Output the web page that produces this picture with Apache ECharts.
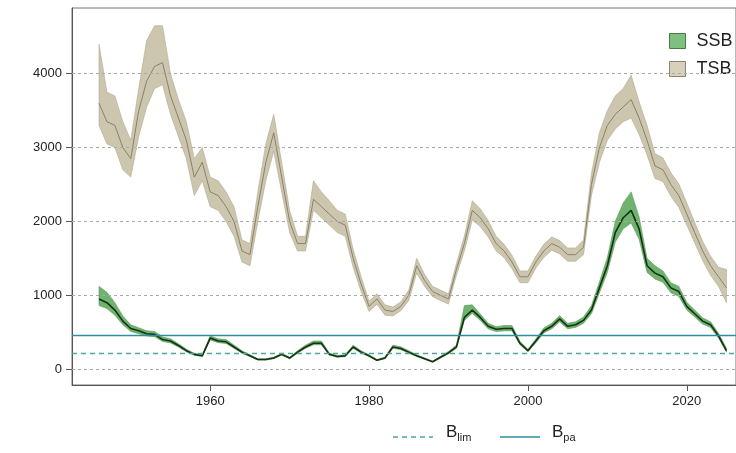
<!DOCTYPE html>
<html lang="en">
<head>
<meta charset="UTF-8" />
<title>Stock biomass</title>
<script src="https://cdn.jsdelivr.net/npm/echarts@6/dist/echarts.min.js"></script>
<style>html,body{margin:0;background:#fff;overflow:hidden}#main{width:736px;height:453px}</style>
</head>
<body>
<div id="main"></div>
<script>
const years = [];
for (let y = 1946; y <= 2025; y++) years.push(y);

const tsb = [3600,3350,3300,3000,2850,3500,3900,4100,4150,3700,3400,3100,2600,2800,2400,2350,2200,2000,1600,1550,
  2200,2800,3200,2600,2000,1700,1700,2300,2200,2100,2000,1950,1500,1150,850,950,800,780,850,1000,
  1400,1200,1050,1000,950,1350,1700,2150,2050,1900,1700,1600,1450,1250,1250,1450,1600,1700,1650,1550,
  1550,1650,2500,3000,3300,3450,3550,3650,3400,3100,2750,2700,2500,2350,2100,1850,1600,1400,1250,1100];
const tsbLow = [3300,3050,3000,2700,2600,3150,3550,3800,3850,3450,3150,2850,2350,2550,2200,2150,2000,1800,1450,1400,
  2000,2550,2950,2400,1850,1600,1600,2150,2050,1950,1850,1800,1380,1050,780,880,730,720,790,930,
  1300,1120,980,930,880,1270,1600,2020,1930,1790,1600,1510,1360,1170,1170,1370,1510,1610,1560,1460,
  1460,1550,2350,2800,3100,3250,3350,3400,3180,2900,2580,2540,2340,2190,1950,1710,1470,1270,1120,900];
const tsbHigh = [4400,3750,3700,3350,3100,3800,4450,4650,4650,4000,3650,3350,2850,3000,2600,2550,2400,2200,1750,1700,
  2400,3050,3450,2800,2150,1800,1800,2550,2400,2280,2150,2100,1620,1250,920,1020,870,840,910,1070,
  1500,1280,1120,1070,1020,1430,1800,2280,2170,2010,1800,1690,1540,1330,1330,1530,1690,1790,1740,1640,
  1640,1750,2650,3200,3500,3700,3800,3980,3620,3300,2920,2860,2660,2510,2250,1990,1730,1530,1380,1350];

const ssb = [950,900,800,650,550,520,480,470,400,380,320,250,200,180,420,380,370,300,230,180,
  130,130,150,200,150,230,300,350,350,200,170,180,300,230,180,120,150,300,280,230,
  180,140,100,160,220,300,700,800,700,580,540,550,550,350,250,380,520,580,680,580,
  600,660,800,1100,1400,1850,2050,2150,1900,1400,1300,1250,1100,1050,850,750,650,600,450,250];
const ssbLow = [860,820,730,600,510,480,450,440,375,355,300,235,188,170,395,358,348,282,216,170,
  122,122,141,188,141,216,282,330,330,188,160,170,282,216,170,113,141,282,263,216,
  170,132,94,150,207,282,660,755,660,545,508,518,518,330,235,357,490,545,640,545,
  565,620,750,1030,1310,1720,1900,1980,1760,1310,1220,1175,1035,985,800,705,610,563,420,230];
const ssbHigh = [1120,1040,900,720,600,560,520,510,435,410,345,270,215,195,450,410,400,325,248,195,
  140,140,162,216,162,248,324,380,380,216,184,195,324,248,195,130,162,324,302,248,
  195,151,108,173,238,324,860,870,745,620,575,590,590,375,268,408,558,620,725,620,
  640,705,860,1180,1510,2000,2250,2400,2060,1500,1400,1330,1170,1120,905,800,695,640,485,280];

const yTicks = [0, 1000, 2000, 3000, 4000];
const xTicks = [1960, 1980, 2000, 2020];
const bLim = 220;
const bPa = 460;

const pair = (a) => years.map((y, i) => [y, a[i]]);

// band drawn as one polygon through the axis scales
function band(name, low, high, fill, stroke) {
  return {
    name: name, type: 'custom', silent: true,
    data: [0],
    renderItem: function (params, api) {
      const pts = [];
      years.forEach((y, i) => pts.push(api.coord([y, high[i]])));
      for (let i = years.length - 1; i >= 0; i--) pts.push(api.coord([years[i], low[i]]));
      return { type: 'polygon', shape: { points: pts },
        style: { fill: fill, stroke: stroke, lineWidth: 0.6 } };
    }
  };
}

const chart = echarts.init(document.getElementById('main'));
chart.setOption({
  animation: false,
  grid: { left: 72, right: 0, top: 8, bottom: 68, show: true, borderColor: '#777', borderWidth: 1 },
  xAxis: {
    type: 'value', min: 1942.6, max: 2026.2,
    axisLine: { show: true, onZero: false, lineStyle: { color: '#555' } },
    axisTick: { show: true, customValues: xTicks, length: 6, lineStyle: { color: '#555' } },
    axisLabel: { customValues: xTicks, formatter: v => String(v), color: '#222', fontSize: 13, fontFamily: 'Liberation Sans', margin: 10 },
    splitLine: { show: false }
  },
  yAxis: {
    type: 'value', min: -215, max: 4890,
    axisLine: { show: true, lineStyle: { color: '#555' } },
    axisTick: { show: true, customValues: yTicks, length: 6, lineStyle: { color: '#555' } },
    axisLabel: { customValues: yTicks, formatter: v => String(v), color: '#222', fontSize: 13, fontFamily: 'Liberation Sans', margin: 10 },
    splitLine: { show: false }
  },
  legend: {
    left: 664, top: 27, orient: 'vertical', itemGap: 10, itemWidth: 16, itemHeight: 15,
    textStyle: { fontSize: 18, color: '#222', fontFamily: 'Liberation Sans', padding: [0, 0, 0, 6] },
    data: [
      { name: 'SSB', icon: 'rect', itemStyle: { color: '#7fbf7f', borderColor: '#4a7a4a', borderWidth: 1 } },
      { name: 'TSB', icon: 'rect', itemStyle: { color: '#d6d0bc', borderColor: '#8a8470', borderWidth: 1 } }
    ]
  },
  series: [
    { type: 'line', data: [], markLine: { silent: true, symbol: 'none', label: { show: false },
        lineStyle: { color: '#aaa', type: [3, 3], width: 1 },
        data: yTicks.map(v => ({ yAxis: v })) } },
    band('TSB', tsbLow, tsbHigh, '#cdc6ae', '#b0a88e'),
    { type: 'line', data: pair(tsb), symbol: 'none', lineStyle: { color: '#8a806c', width: 1 } },
    band('SSB', ssbLow, ssbHigh, '#6fb36f', '#5a9a5a'),
    { type: 'line', data: pair(ssb), symbol: 'none', lineStyle: { color: '#143314', width: 1.6 },
      markLine: { silent: true, symbol: 'none', label: { show: false },
        data: [
          { yAxis: bPa, lineStyle: { color: '#2f8f9d', type: 'solid', width: 1.4 } },
          { yAxis: bLim, lineStyle: { color: '#4fa896', type: [5, 4], width: 1.4 } }
        ] } }
  ],
  graphic: [
    { type: 'line', shape: { x1: 393, y1: 437, x2: 433, y2: 437 }, style: { stroke: '#4fa896', lineWidth: 1.4, lineDash: [5, 4] } },
    { type: 'text', left: 446, top: 424, style: { text: '{m|B}{s|lim}', rich: {
      m: { fontSize: 17, fill: '#222', fontFamily: 'Liberation Sans' },
      s: { fontSize: 11, fill: '#222', fontFamily: 'Liberation Sans', padding: [10, 0, 0, 0] } } } },
    { type: 'line', shape: { x1: 500, y1: 437, x2: 540, y2: 437 }, style: { stroke: '#2f8f9d', lineWidth: 1.4 } },
    { type: 'text', left: 552, top: 424, style: { text: '{m|B}{s|pa}', rich: {
      m: { fontSize: 17, fill: '#222', fontFamily: 'Liberation Sans' },
      s: { fontSize: 11, fill: '#222', fontFamily: 'Liberation Sans', padding: [10, 0, 0, 0] } } } }
  ]
});
</script>
</body>
</html>
